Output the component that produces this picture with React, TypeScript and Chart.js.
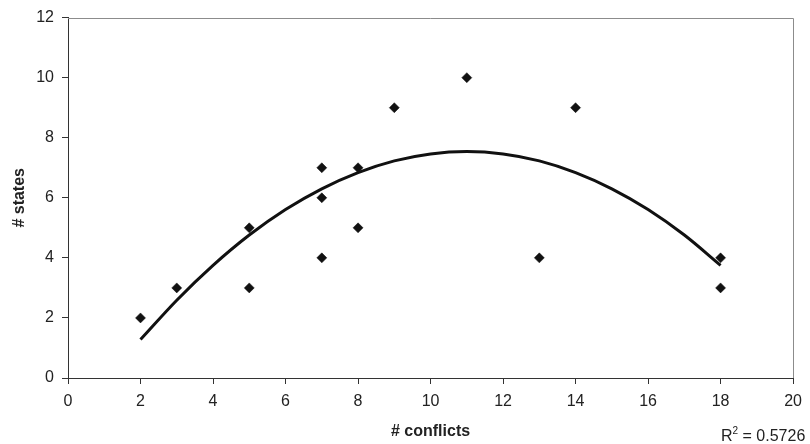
import React, { useEffect, useRef } from "react";
import { Chart, registerables } from "chart.js";

Chart.register(...registerables);

// Observed data points (# conflicts, # states)
const conflicts = [2, 3, 5, 5, 7, 7, 7, 8, 8, 9, 11, 13, 14, 18, 18];
const states = [2, 3, 5, 3, 7, 6, 4, 7, 5, 9, 10, 4, 9, 4, 3];

// Polynomial trend line
const trendX = [2, 3, 4, 5, 6, 7, 8, 9, 10, 11, 12, 13, 14, 15, 16, 17, 18];
const trendY = [1.28, 2.59, 3.75, 4.76, 5.61, 6.3, 6.84, 7.23, 7.46, 7.54, 7.46, 7.23, 6.84, 6.3, 5.61, 4.76, 3.75];

const xTicks = [0, 2, 4, 6, 8, 10, 12, 14, 16, 18, 20];
const yTicks = [0, 2, 4, 6, 8, 10, 12];

const xTitle = "# conflicts";
const yTitle = "# states";
const rSquaredValue = "0.5726";

const FONT = "'Liberation Sans', Arial, sans-serif";
const TEXT = "#222222";
const AXIS = "#333333";

export default function App() {
  const ref = useRef<HTMLCanvasElement | null>(null);

  useEffect(() => {
    const canvas = ref.current;
    if (!canvas) return;

    const frame = {
      id: "frameAndR2",
      afterDraw(chart: any) {
        const { ctx, chartArea } = chart;
        const { left, right, top, bottom } = chartArea;
        ctx.save();
        ctx.strokeStyle = "#8c8c8c";
        ctx.lineWidth = 1;
        ctx.beginPath();
        ctx.moveTo(Math.round(left), Math.round(top) + 0.5);
        ctx.lineTo(Math.round(right) + 0.5, Math.round(top) + 0.5);
        ctx.lineTo(Math.round(right) + 0.5, Math.round(bottom));
        ctx.stroke();

        // R² label
        ctx.fillStyle = TEXT;
        ctx.textBaseline = "alphabetic";
        ctx.textAlign = "left";
        const baseY = 441;
        let x = 721;
        ctx.font = `16px ${FONT}`;
        ctx.fillText("R", x, baseY);
        x += ctx.measureText("R").width;
        ctx.font = `10px ${FONT}`;
        ctx.fillText("2", x, baseY - 7);
        x += ctx.measureText("2").width;
        ctx.font = `16px ${FONT}`;
        ctx.fillText(" = " + rSquaredValue, x, baseY);
        ctx.restore();
      },
    };

    const chart = new Chart(canvas, {
      type: "scatter",
      data: {
        datasets: [
          {
            type: "scatter",
            label: "data",
            data: conflicts.map((c, i) => ({ x: c, y: states[i] })),
            pointStyle: "rectRot",
            pointRadius: 5,
            pointBorderWidth: 0.5,
            backgroundColor: "#111111",
            borderColor: "#111111",
            order: 1,
          },
          {
            type: "line",
            label: "trend",
            data: trendX.map((t, i) => ({ x: t, y: trendY[i] })),
            borderColor: "#111111",
            borderWidth: 3,
            pointRadius: 0,
            fill: false,
            cubicInterpolationMode: "monotone",
            order: 2,
          } as any,
        ],
      },
      options: {
        responsive: false,
        animation: false,
        layout: { padding: { top: 14, right: 13, left: 0, bottom: 0 } },
        plugins: {
          legend: { display: false },
          tooltip: { enabled: false },
        },
        scales: {
          x: {
            type: "linear",
            min: 0,
            max: 20,
            afterBuildTicks: (s: any) => {
              s.ticks = xTicks.map((v) => ({ value: v }));
            },
            afterFit: (s: any) => {
              s.height = 66;
            },
            grid: {
              display: true,
              drawOnChartArea: false,
              drawTicks: true,
              tickLength: 6,
              color: AXIS,
            },
            border: { display: true, color: AXIS, width: 1 },
            ticks: {
              padding: 8,
              color: TEXT,
              font: { family: FONT, size: 16 },
              maxRotation: 0,
            },
            title: {
              display: true,
              text: xTitle,
              color: TEXT,
              font: { family: FONT, size: 16, weight: "bold" },
              padding: { top: 0, bottom: 3 },
            },
          },
          y: {
            type: "linear",
            min: 0,
            max: 12,
            afterBuildTicks: (s: any) => {
              s.ticks = yTicks.map((v) => ({ value: v }));
            },
            afterFit: (s: any) => {
              s.width = 68;
            },
            grid: {
              display: true,
              drawOnChartArea: false,
              drawTicks: true,
              tickLength: 6,
              color: AXIS,
            },
            border: { display: true, color: AXIS, width: 1 },
            ticks: {
              padding: 8,
              color: TEXT,
              font: { family: FONT, size: 16 },
            },
            title: {
              display: true,
              text: yTitle,
              color: TEXT,
              font: { family: FONT, size: 16, weight: "bold" },
              padding: { top: 10, bottom: 0 },
            },
          },
        },
      },
      plugins: [frame],
    });

    return () => chart.destroy();
  }, []);

  return (
    <div style={{ position: "fixed", left: 0, top: 0, width: 810, height: 444, background: "#fff" }}>
      <canvas ref={ref} width={810} height={444} style={{ display: "block" }} />
    </div>
  );
}
